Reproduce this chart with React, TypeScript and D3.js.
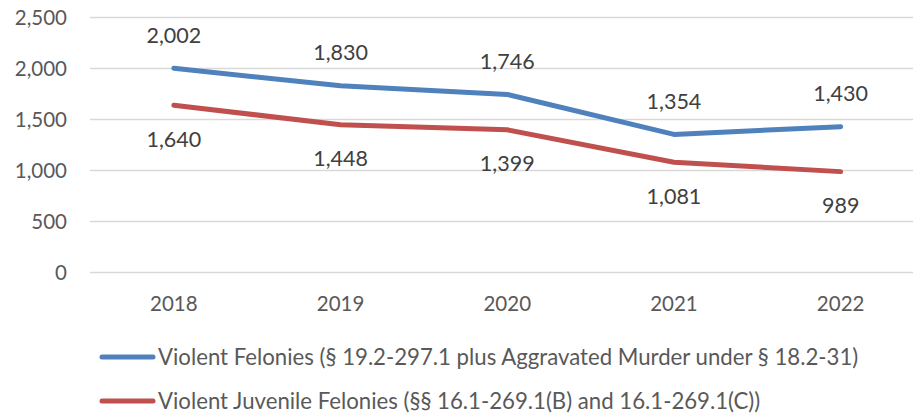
import React from "react";
import * as d3 from "d3";

const years = ["2018", "2019", "2020", "2021", "2022"];
const violentFelonies = [2002, 1830, 1746, 1354, 1430];
const juvenileFelonies = [1640, 1448, 1399, 1081, 989];
const yTicks = [0, 500, 1000, 1500, 2000, 2500];
const seriesNames = [
  "Violent Felonies (§ 19.2-297.1 plus Aggravated Murder under § 18.2-31)",
  "Violent Juvenile Felonies (§§ 16.1-269.1(B) and 16.1-269.1(C))",
];
const colors = ["#4F81BD", "#C0504D"];

export default function App() {
  const W = 913, H = 414;
  const font = "Lato, 'Open Sans', sans-serif";
  const x = d3.scaleBand().domain(years).range([90.5, 924]);
  const y = d3.scaleLinear().domain([0, 2500]).range([272.5, 17.5]);
  const cx = (d: string) => (x(d) as number) + x.bandwidth() / 2;
  const line = d3
    .line<number>()
    .x((_, i) => cx(years[i]))
    .y((v) => y(v));
  const fmt = d3.format(",");
  const series = [violentFelonies, juvenileFelonies];
  return (
    <svg width={W} height={H} style={{ position: "absolute", left: 0, top: 0, background: "#fff" }}>
      {yTicks.map((t) => (
        <g key={t}>
          <line x1={90} x2={W} y1={y(t)} y2={y(t)} stroke="#D9D9D9" strokeWidth={1.5} />
          <text x={67} y={y(t)} dy="0.35em" textAnchor="end" fontFamily={font} fontSize={20.5} fill="#595959">
            {fmt(t)}
          </text>
        </g>
      ))}
      {years.map((yr) => (
        <text key={yr} x={cx(yr)} y={304} dy="0.35em" textAnchor="middle" fontFamily={font} fontSize={20.5} fill="#595959">
          {yr}
        </text>
      ))}
      {series.map((s, si) => (
        <path key={si} d={line(s) as string} fill="none" stroke={colors[si]} strokeWidth={5} strokeLinecap="round" strokeLinejoin="round" />
      ))}
      {violentFelonies.map((v, i) => (
        <text key={"a" + i} x={cx(years[i])} y={y(v) - 33} dy="0.35em" textAnchor="middle" fontFamily={font} fontSize={21.5} fill="#404040">
          {fmt(v)}
        </text>
      ))}
      {juvenileFelonies.map((v, i) => (
        <text key={"b" + i} x={cx(years[i])} y={y(v) + 34} dy="0.35em" textAnchor="middle" fontFamily={font} fontSize={21.5} fill="#404040">
          {fmt(v)}
        </text>
      ))}
      {seriesNames.map((n, i) => (
        <g key={n}>
          <line x1={102} x2={153} y1={357 + i * 44} y2={357 + i * 44} stroke={colors[i]} strokeWidth={5} strokeLinecap="round" />
          <text x={158} y={357 + i * 44} dy="0.35em" fontFamily={font} fontSize={22.2} fill="#595959">
            {n}
          </text>
        </g>
      ))}
    </svg>
  );
}
